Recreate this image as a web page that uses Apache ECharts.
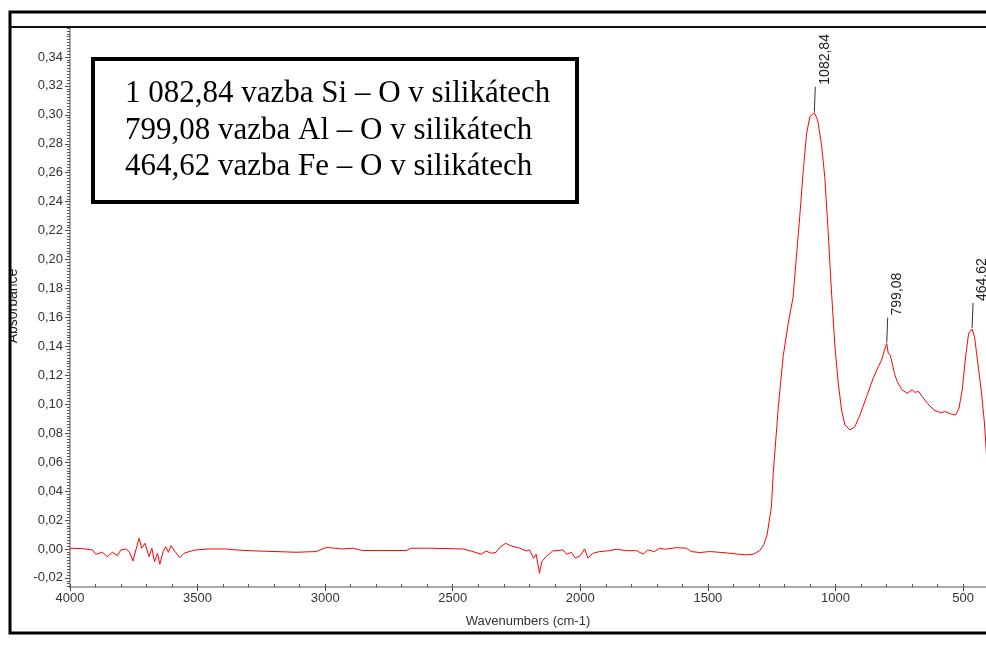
<!DOCTYPE html>
<html>
<head>
<meta charset="utf-8">
<script src="https://cdn.jsdelivr.net/npm/echarts@6/dist/echarts.min.js"></script>
<style>
  html, body{
    margin: 0;
    padding: 0;
    background-color: #ffffff;
  }
  #chart_ftir{
    width: 986px;
    height: 651px;
  }
</style>
</head>
<body>
<div id="chart_ftir"></div>
<script>
  /*spektrum - vlnocty (cm-1) a absorbance*/
  var wavenumbers = [
    4000, 3952, 3912, 3899, 3873, 3854, 3834, 3814, 3801, 3781, 3768, 3753, 3742, 3729, 3719, 3706,
    3690, 3679, 3669, 3657, 3648, 3635, 3625, 3614, 3604, 3588, 3570, 3553, 3533, 3507, 3455, 3389,
    3350, 3271, 3193, 3114, 3036, 2997, 2984, 2932, 2892, 2853, 2788, 2683, 2663, 2591, 2461, 2421,
    2389, 2369, 2349, 2330, 2317, 2293, 2271, 2238, 2212, 2199, 2183, 2173, 2160, 2151, 2134, 2108,
    2068, 2053, 2035, 2019, 2000, 1983, 1970, 1964, 1951, 1924, 1885, 1859, 1820, 1780, 1754, 1735,
    1709, 1689, 1669, 1623, 1584, 1565, 1532, 1493, 1441, 1388, 1349, 1323, 1297, 1281, 1268, 1257,
    1251, 1244, 1224, 1205, 1185, 1166, 1153, 1140, 1127, 1113, 1100, 1082.84, 1070, 1055, 1042, 1029,
    1016, 1002, 989, 976, 963, 943, 924, 904, 878, 852, 832, 819, 808, 799.08, 793, 785,
    778, 769, 758, 739, 719, 699, 690, 673, 660, 640, 614, 588, 569, 549, 529, 516,
    503, 490, 478, 464.62, 455, 442, 429, 416, 406, 400
  ];
  var absorbance = [
    0.0005, 0.0002, -0.0007, -0.0037, -0.0023, -0.0053, -0.0023, -0.0046, -0.0007, 0.0000, -0.0018, -0.0083, -0.0007, 0.0074, 0.0005, 0.0039,
    -0.0053, 0.0005, -0.0088, -0.0030, -0.0106, -0.0018, 0.0016, -0.0023, 0.0023, -0.0018, -0.0060, -0.0030, -0.0018, -0.0007, 0.0000, 0.0000,
    -0.0007, -0.0014, -0.0018, -0.0023, -0.0018, 0.0009, 0.0009, 0.0000, 0.0005, -0.0011, -0.0011, -0.0011, 0.0005, 0.0005, 0.0000, -0.0018,
    -0.0037, -0.0014, -0.0030, -0.0023, 0.0009, 0.0039, 0.0021, 0.0005, -0.0014, -0.0007, -0.0064, -0.0037, -0.0168, -0.0088, -0.0053, -0.0014,
    -0.0007, -0.0037, -0.0023, -0.0064, -0.0046, 0.0000, -0.0064, -0.0053, -0.0030, -0.0018, -0.0012, -0.0002, -0.0012, -0.0012, -0.0035, -0.0007,
    -0.0018, 0.0005, -0.0002, 0.0009, 0.0005, -0.0018, -0.0025, -0.0018, -0.0025, -0.0035, -0.0041, -0.0037, -0.0012, 0.0028, 0.0097, 0.0223,
    0.0290, 0.0520, 0.0980, 0.1330, 0.1560, 0.1740, 0.2020, 0.2297, 0.2597, 0.2873, 0.2988, 0.3015, 0.2965, 0.2800, 0.2573, 0.2205,
    0.1790, 0.1398, 0.1145, 0.0960, 0.0857, 0.0822, 0.0845, 0.0926, 0.1053, 0.1180, 0.1260, 0.1306, 0.1375, 0.1420, 0.1352, 0.1340,
    0.1330, 0.1214, 0.1156, 0.1100, 0.1076, 0.1100, 0.1083, 0.1087, 0.1053, 0.1007, 0.0960, 0.0942, 0.0949, 0.0933, 0.0926, 0.0972,
    0.1100, 0.1330, 0.1490, 0.1520, 0.1467, 0.1283, 0.1100, 0.0869, 0.0592, 0.0450
  ];

  /*popisky piku*/
  var peakWave = [1082.84, 799.08, 464.62];
  var peakAbs = [0.3015, 0.142, 0.152];
  var peakText = ['1082,84', '799,08', '464,62'];

  /*osy*/
  var xTicks = [4000, 3500, 3000, 2500, 2000, 1500, 1000, 500];
  var yTicks = [-0.02, 0, 0.02, 0.04, 0.06, 0.08, 0.10, 0.12, 0.14, 0.16, 0.18, 0.20, 0.22, 0.24, 0.26, 0.28, 0.30, 0.32, 0.34];

  /*text v ramecku*/
  var noteLines = [
    '1 082,84 vazba Si – O v silikátech',
    '799,08 vazba Al – O v silikátech',
    '464,62 vazba Fe – O v silikátech'
  ];

  var xMin = 410, xMax = 4000;
  var yMin = -0.0263, yMax = 0.3607;

  var spectrum = [];
  for (var i = 0; i < wavenumbers.length; i++) {
    spectrum.push([wavenumbers[i], absorbance[i]]);
  }
  var peaks = [];
  for (var j = 0; j < peakWave.length; j++) {
    peaks.push([peakWave[j], peakAbs[j]]);
  }
  // drobne tiky
  var xMinor = [];
  for (var w = 4000; w >= 500; w -= 100) xMinor.push(w);
  var yMinor = [];
  for (var k = -13; k <= 180; k++) yMinor.push(Math.round(k * 2) / 1000);

  var labelFont = 'Liberation Sans';
  var myChart = echarts.init(document.getElementById('chart_ftir'));

  var option = {
    animation: false,
    backgroundColor: '#ffffff',
    grid: [
      {left: 70, right: 0, top: 27, bottom: 64},
      {left: 70, right: 0, top: 27, bottom: 64}
    ],
    xAxis: [
      {
        type: 'value',
        gridIndex: 0,
        inverse: true,
        min: xMin,
        max: xMax,
        name: 'Wavenumbers (cm-1)',
        nameLocation: 'middle',
        nameGap: 28,
        nameTextStyle: {fontFamily: labelFont, fontSize: 13, color: '#333'},
        axisLine: {onZero: false, lineStyle: {color: '#aaaaaa', width: 2}},
        axisTick: {customValues: xTicks, length: 4, lineStyle: {color: '#444'}},
        axisLabel: {
          customValues: xTicks,
          margin: 5,
          fontFamily: labelFont,
          fontSize: 13,
          color: '#333',
          formatter: function (v) {
            return String(v);
          }
        },
        splitLine: {show: false}
      },
      {
        type: 'value',
        gridIndex: 1,
        inverse: true,
        min: xMin,
        max: xMax,
        axisLine: {show: false, onZero: false},
        axisTick: {customValues: xMinor, inside: true, length: 3, lineStyle: {color: '#555'}},
        axisLabel: {show: false},
        splitLine: {show: false}
      }
    ],
    yAxis: [
      {
        type: 'value',
        gridIndex: 0,
        min: yMin,
        max: yMax,
        axisLine: {show: true, onZero: false, lineStyle: {color: '#aaaaaa', width: 2}},
        axisTick: {show: true, customValues: yTicks, length: 5, lineStyle: {color: '#444'}},
        axisLabel: {
          customValues: yTicks,
          margin: 7,
          fontFamily: labelFont,
          fontSize: 13,
          color: '#333',
          formatter: function (v) {
            return v.toFixed(2).replace('.', ',');
          }
        },
        splitLine: {show: false}
      },
      {
        type: 'value',
        gridIndex: 1,
        min: yMin,
        max: yMax,
        axisLine: {show: false, onZero: false},
        axisTick: {show: true, customValues: yMinor, length: 3, lineStyle: {color: '#555'}},
        axisLabel: {show: false},
        splitLine: {show: false}
      }
    ],
    series: [
      {
        name: 'Absorbance',
        type: 'line',
        xAxisIndex: 0,
        yAxisIndex: 0,
        data: spectrum,
        showSymbol: false,
        clip: true,
        lineStyle: {color: '#ff0000', width: 1}
      },
      {
        name: 'peaks',
        type: 'custom',
        xAxisIndex: 0,
        yAxisIndex: 0,
        clip: false,
        data: peaks,
        renderItem: function (params, api) {
          var p = api.coord([api.value(0), api.value(1)]);
          return {
            type: 'group',
            children: [
              {
                type: 'line',
                shape: {x1: p[0], y1: p[1] - 1, x2: p[0] + 1, y2: p[1] - 26},
                style: {stroke: '#333', lineWidth: 1}
              },
              {
                type: 'text',
                x: p[0] + 10.5,
                y: p[1] - 28,
                rotation: Math.PI / 2,
                style: {
                  text: peakText[params.dataIndex],
                  fill: '#222',
                  font: '14px "Liberation Sans"',
                  align: 'left',
                  verticalAlign: 'middle'
                }
              }
            ]
          };
        }
      }
    ],
    graphic: [
      {
        type: 'text',
        x: 13,
        y: 306,
        rotation: Math.PI / 2,
        z: 1,
        style: {text: 'Absorbance', font: '14px "Liberation Sans"', fill: '#222', align: 'center', verticalAlign: 'middle'}
      },
      {type: 'rect', z: 2, shape: {x: 0, y: 0, width: 9, height: 651}, style: {fill: '#ffffff'}},
      {type: 'rect', z: 3, shape: {x: 10, y: 12, width: 1000, height: 621}, style: {fill: 'none', stroke: '#000', lineWidth: 3}},
      {type: 'line', z: 3, shape: {x1: 10, y1: 27, x2: 986, y2: 27}, style: {stroke: '#111', lineWidth: 2}},
      {type: 'rect', z: 3, shape: {x: 93, y: 59, width: 484, height: 143}, style: {fill: '#ffffff', stroke: '#000', lineWidth: 4}},
      {type: 'text', z: 4, x: 125, y: 94, style: {text: noteLines[0], font: '31px "Liberation Serif"', fill: '#000', verticalAlign: 'middle'}},
      {type: 'text', z: 4, x: 125, y: 131, style: {text: noteLines[1], font: '31px "Liberation Serif"', fill: '#000', verticalAlign: 'middle'}},
      {type: 'text', z: 4, x: 125, y: 167, style: {text: noteLines[2], font: '31px "Liberation Serif"', fill: '#000', verticalAlign: 'middle'}}
    ]
  };
  myChart.setOption(option);
  window.addEventListener('resize', function () { myChart.resize(); });
</script>
</body>
</html>
